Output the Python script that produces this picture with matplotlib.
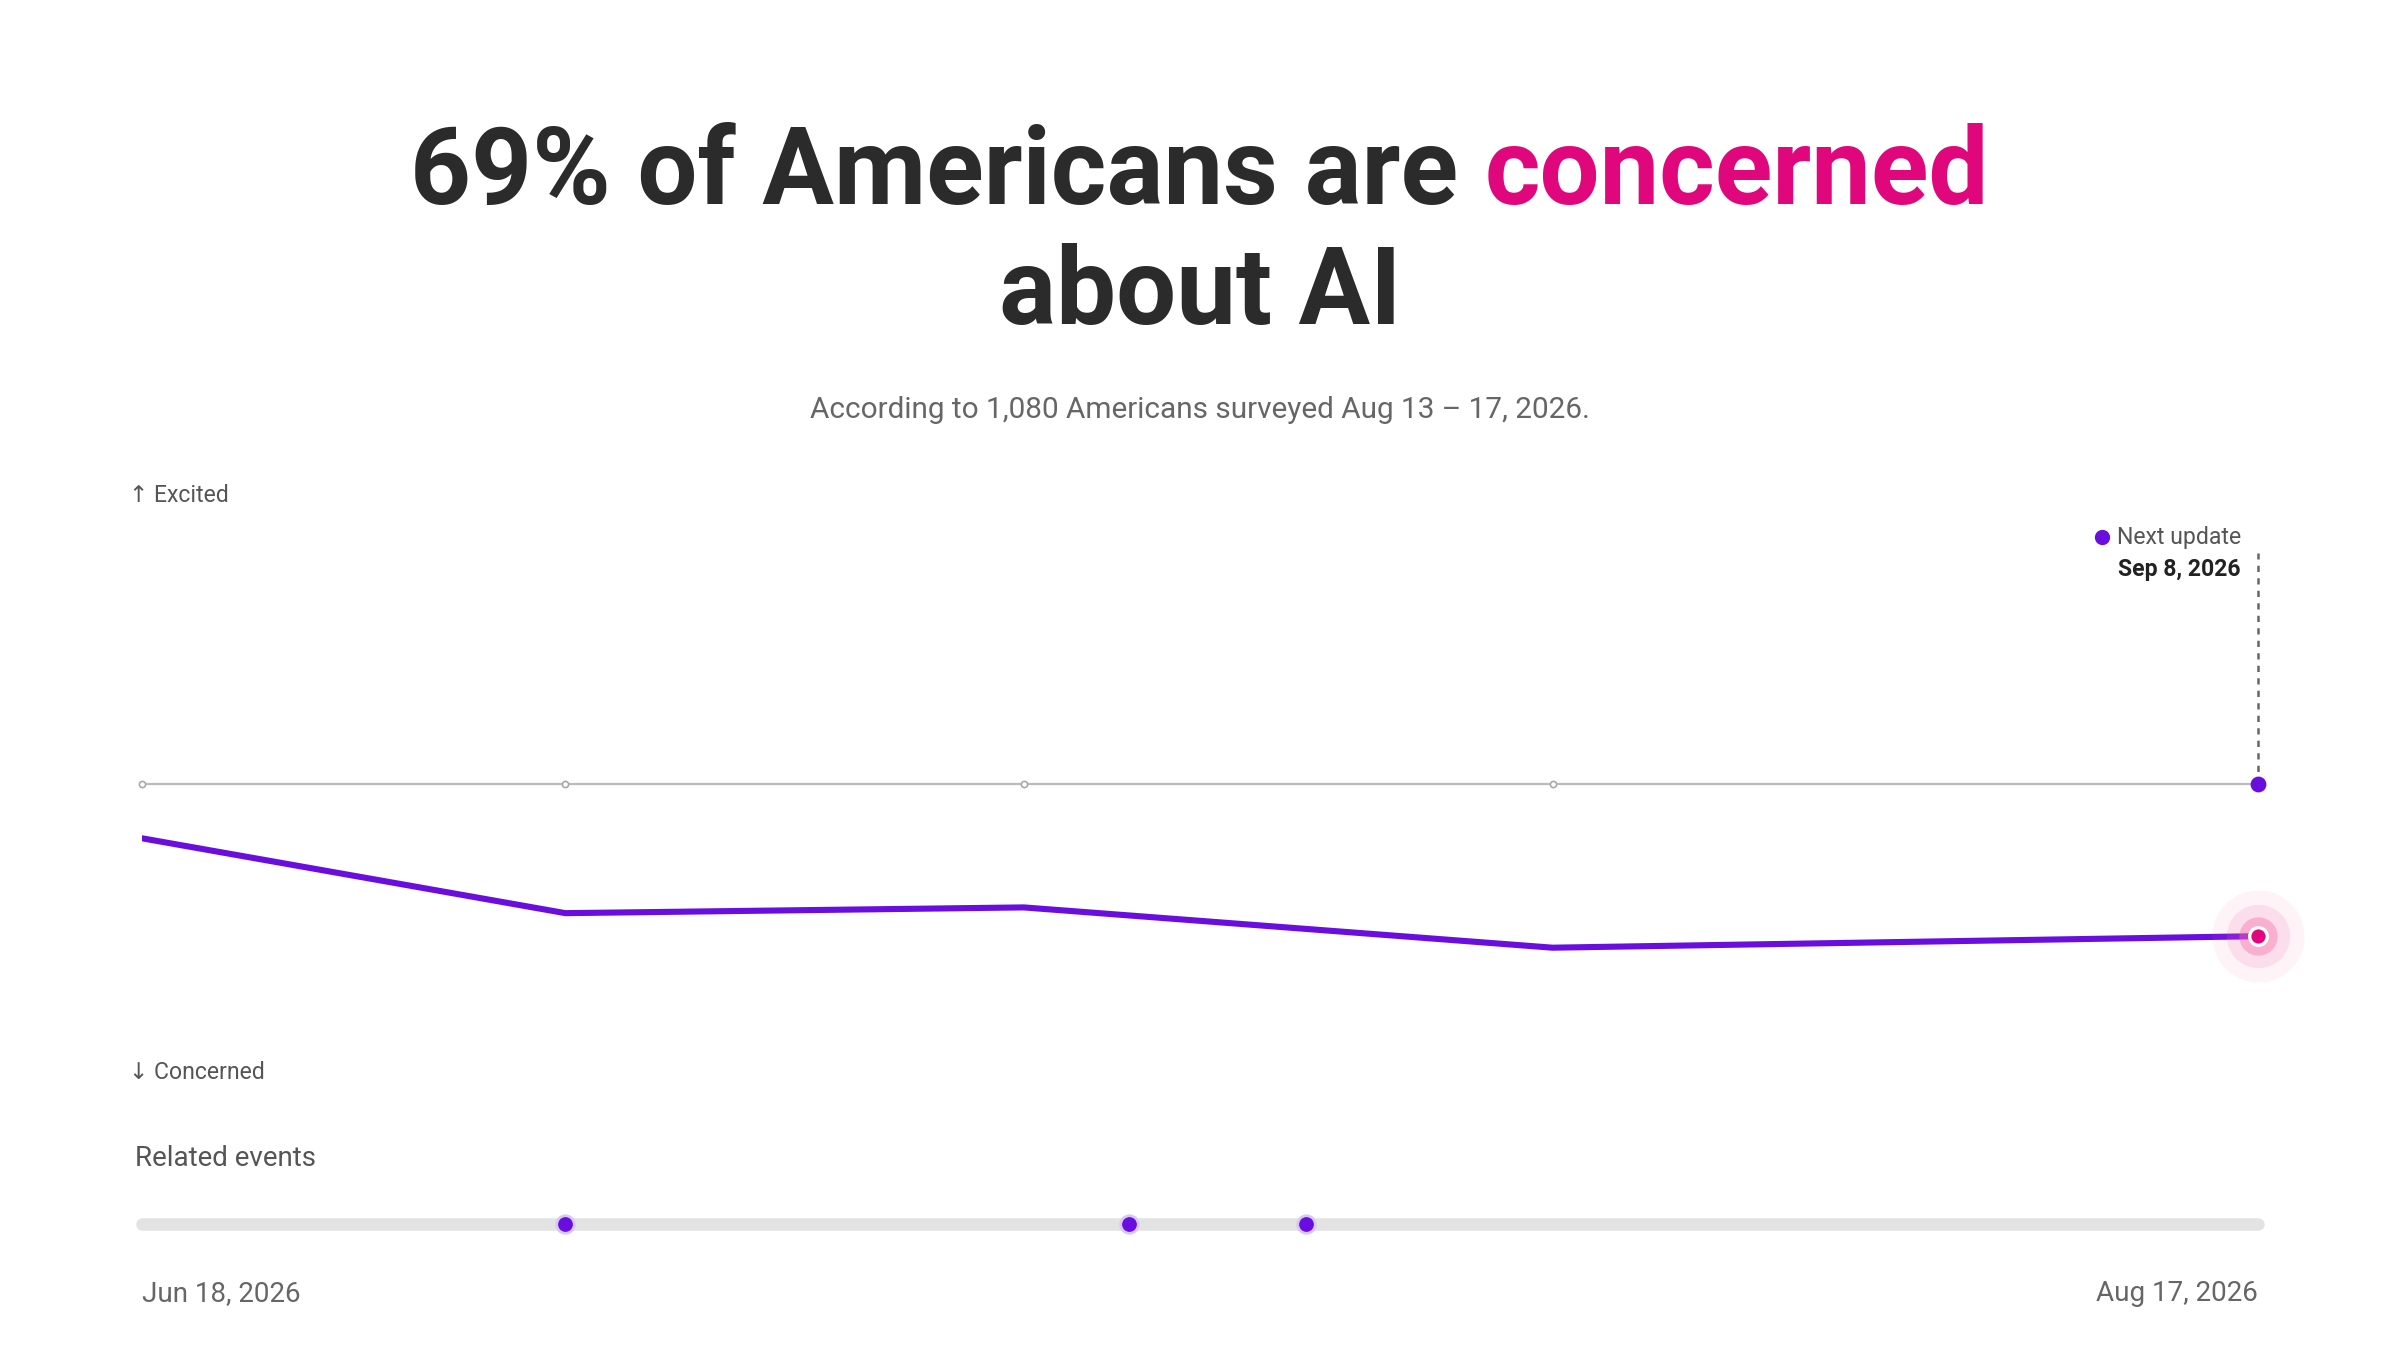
import matplotlib
matplotlib.use("Agg")
import matplotlib.pyplot as plt
from matplotlib.lines import Line2D

plt.rcParams['font.family'] = ['Roboto', 'DejaVu Sans']

days = [0, 12, 25, 40, 60]          # days after Jun 18, 2026
sentiment = [-0.19, -0.45, -0.43, -0.57, -0.53]
event_days = [12, 28, 33]
start_label = "Jun 18, 2026"
end_label = "Aug 17, 2026"

W, H = 2400, 1360
fig = plt.figure(figsize=(12, 6.8), dpi=200)
S = W / 1568
def fx(x): return x / 1568
def fy(y): return 1 - y * S / H

r = fig.canvas.get_renderer()
t1 = fig.text(0, 0, "69% of Americans are ", fontsize=48, fontweight='bold', color='#2b2b2b')
t2 = fig.text(0, 0, "concerned", fontsize=48, fontweight='bold', color='#e0077d')
w1 = t1.get_window_extent(r).width; w2 = t2.get_window_extent(r).width
target = 1032 * S
fs = 48 * target / (w1 + w2)
t1.set_fontsize(fs); t2.set_fontsize(fs)
w1 = t1.get_window_extent(r).width; w2 = t2.get_window_extent(r).width
x0 = (W - w1 - w2) / 2 / W
t1.set_position((x0, fy(133))); t2.set_position((x0 + w1 / W, fy(133)))
fig.text(0.5, fy(212), "about AI", fontsize=fs, fontweight='bold', color='#2b2b2b', ha='center')
fig.text(0.5, fy(268), "According to 1,080 Americans surveyed Aug 13 – 17, 2026.", fontsize=10.7,
         color='#666666', ha='center', va='center')

ax = fig.add_axes([fx(93), fy(700), fx(1475) - fx(93), fy(324) - fy(700)])
ax.set_xlim(0, 60); ax.set_ylim(-1, 1)
ax.axis('off')
ax.axhline(0, color='#bbbbbb', lw=0.8, zorder=1)
ax.scatter([0, 12, 25, 40], [0]*4, s=5, facecolor='white', edgecolor='#aaaaaa', lw=0.6, zorder=2, clip_on=False)
ax.plot(days, sentiment, color='#6a0ee0', lw=2.2, zorder=3, solid_capstyle='round')
for s_, a in [(1100, 0.07), (520, 0.16), (190, 0.4)]:
    ax.scatter([days[-1]], [sentiment[-1]], s=s_, color='#f46aa8', alpha=a, lw=0, zorder=4, clip_on=False)
ax.scatter([days[-1]], [sentiment[-1]], s=40, color='#e0077d', edgecolor='white', lw=1.2, zorder=5, clip_on=False)
ax.plot([60, 60], [0, 0.80], color='#666666', lw=0.9, ls=(0, (2.5, 2.5)), zorder=2, clip_on=False)
ax.scatter([60], [0], s=22, color='#6a0ee0', zorder=5, clip_on=False)

fig.text(fx(84), fy(324), "↑ Excited", fontsize=8.3, color='#555555', va='center')
fig.text(fx(84), fy(701), "↓ Concerned", fontsize=8.3, color='#555555', va='center')
fig.text(fx(1464), fy(351), "Next update", fontsize=8.3, color='#555555', va='center', ha='right')
fig.text(fx(1464), fy(372), "Sep 8, 2026", fontsize=8.3, color='#222222', va='center', ha='right', fontweight='bold')
fig.add_artist(Line2D([fx(1373)], [fy(351)], marker='o', markersize=4.5, color='#6a0ee0',
                      transform=fig.transFigure))

fig.text(fx(88), fy(757), "Related events", fontsize=10, color='#555555', va='center')
ax2 = fig.add_axes([fx(93), fy(815), fx(1475) - fx(93), fy(785) - fy(815)])
ax2.set_xlim(0, 60); ax2.set_ylim(-1, 1); ax2.axis('off')
ax2.plot([0, 60], [0, 0], color='#e3e3e3', lw=4.5, solid_capstyle='round', zorder=1, clip_on=False)
ax2.scatter(event_days, [0]*len(event_days), s=40, color='#6a0ee0', edgecolor='#d8c8f5', lw=1, zorder=2, clip_on=False)
fig.text(fx(93), fy(845), start_label, fontsize=10, color='#666666', va='center')
fig.text(fx(1475), fy(845), end_label, fontsize=10, color='#666666', va='center', ha='right')

fig.savefig("out.png", dpi=200, facecolor='white')
